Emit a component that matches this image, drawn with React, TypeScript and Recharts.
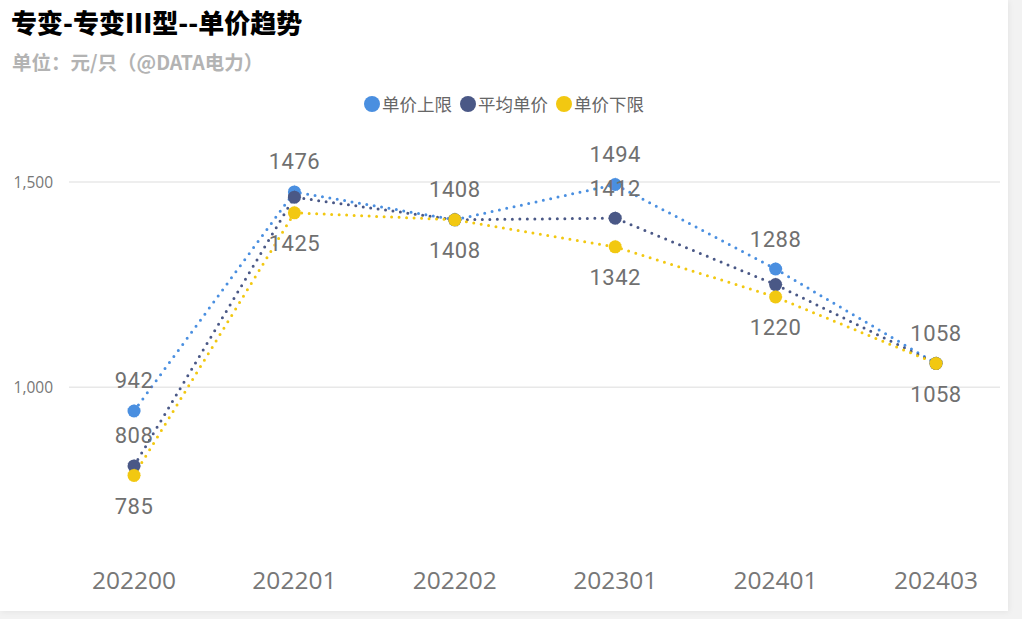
import React from 'react';
import { LineChart, Line, XAxis, YAxis, ReferenceLine, LabelList } from 'recharts';

const categories = ['202200', '202201', '202202', '202301', '202401', '202403'];
const upperValues = [942, 1476, 1408, 1494, 1288, 1058];
const avgValues = [808, 1463, 1408, 1412, 1250, 1058];
const lowerValues = [785, 1425, 1408, 1342, 1220, 1058];
const avgLabelShown = [true, false, false, true, false, false];
const yTicks = [1000, 1500];
const seriesNames = ['单价上限', '平均单价', '单价下限'];
const seriesColors = ['#4A8FE0', '#4A5886', '#F2C811'];

const data = categories.map((c, i) => ({
  cat: c,
  upper: upperValues[i],
  avg: avgValues[i],
  lower: lowerValues[i],
}));

const labelStyle = {
  fontFamily: 'Roboto, sans-serif',
  fontSize: 22,
  fill: '#707070',
  letterSpacing: 0.5,
};

const makeLabel = (offset: number, shown?: boolean[]) => (props: any) => {
  const { x, y, value, index } = props;
  if (shown && !shown[index]) return null;
  return (
    <text
      x={x}
      y={y + offset}
      textAnchor="middle"
      dominantBaseline="central"
      style={labelStyle as any}
    >
      {value}
    </text>
  );
};

const XTick = (props: any) => {
  const { x, y, payload } = props;
  return (
    <text
      x={x}
      y={y + 38}
      textAnchor="middle"
      dominantBaseline="central"
      style={{ fontFamily: '"Open Sans", sans-serif', fontSize: 24.5, fill: '#777777' }}
    >
      {payload.value}
    </text>
  );
};

const YTick = (props: any) => {
  const { x, y, payload } = props;
  return (
    <text
      x={x}
      y={y}
      textAnchor="end"
      dominantBaseline="central"
      style={{ fontFamily: '"Open Sans", sans-serif', fontSize: 15.5, fill: '#777777' }}
    >
      {payload.value.toLocaleString('en-US')}
    </text>
  );
};

export default function App() {
  const keys = ['upper', 'avg', 'lower'];
  return (
    <div
      style={{
        position: 'absolute',
        left: 0,
        top: 0,
        width: 1022,
        height: 619,
        background: '#f2f2f2',
        overflow: 'hidden',
      }}
    >
      <div
        style={{
          position: 'absolute',
          left: 0,
          top: 0,
          width: 1008,
          height: 611,
          background: '#ffffff',
          boxShadow: '1px 1px 6px rgba(0,0,0,0.06)',
        }}
      >
        <div
          style={{
            position: 'absolute',
            left: 11,
            top: 5,
            fontFamily: '"Noto Sans CJK SC", sans-serif',
            fontWeight: 900,
            fontSize: 26,
            lineHeight: '34px',
            color: '#000000',
            whiteSpace: 'nowrap',
          }}
        >
          专变-专变III型--单价趋势
        </div>
        <div
          style={{
            position: 'absolute',
            left: 12,
            top: 47,
            fontFamily: '"Noto Sans CJK SC", sans-serif',
            fontWeight: 700,
            fontSize: 19.5,
            lineHeight: '30px',
            color: '#b3b3b3',
            whiteSpace: 'nowrap',
          }}
        >
          单位：元/只（@DATA电力）
        </div>
        <div
          style={{
            position: 'absolute',
            left: 0,
            top: 92,
            width: 1008,
            display: 'flex',
            justifyContent: 'center',
            alignItems: 'center',
            height: 24,
          }}
        >
          {seriesNames.map((n, i) => (
            <div
              key={n}
              style={{ display: 'flex', alignItems: 'center', marginRight: i < 2 ? 8 : 0 }}
            >
              <span
                style={{
                  display: 'inline-block',
                  width: 16,
                  height: 16,
                  borderRadius: 8,
                  background: seriesColors[i],
                  marginRight: 2,
                }}
              />
              <span
                style={{
                  fontFamily: '"Noto Sans CJK SC", sans-serif',
                  fontSize: 17.5,
                  color: '#666666',
                  lineHeight: '24px',
                }}
              >
                {n}
              </span>
            </div>
          ))}
        </div>
        <div style={{ position: 'absolute', left: 0, top: 0 }}>
          <LineChart
            width={1008}
            height={611}
            data={data}
            margin={{ top: 141, right: 8, bottom: 0, left: 0 }}
          >
            <XAxis
              dataKey="cat"
              scale="point"
              padding={{ left: 65, right: 64 }}
              axisLine={false}
              tickLine={false}
              tickSize={0}
              height={72}
              tick={<XTick />}
              interval={0}
            />
            <YAxis
              domain={[630, 1600]}
              ticks={yTicks}
              width={69}
              axisLine={false}
              tickLine={false}
              tickSize={0}
              tickMargin={16}
              tick={<YTick />}
            />
            {yTicks.map((t) => (
              <ReferenceLine key={t} y={t} stroke="#e8e8e8" strokeWidth={1.5} />
            ))}
            {keys.map((k, i) => (
              <Line
                key={k}
                dataKey={k}
                name={seriesNames[i]}
                stroke={seriesColors[i]}
                strokeWidth={3}
                strokeDasharray="0 7.5"
                strokeLinecap="round"
                type="linear"
                isAnimationActive={false}
                dot={{ r: 6.5, fill: seriesColors[i], stroke: seriesColors[i], strokeWidth: 0.5 }}
                activeDot={false}
              >
                <LabelList
                  dataKey={k}
                  content={
                    k === 'upper'
                      ? makeLabel(-30)
                      : k === 'lower'
                      ? makeLabel(31)
                      : makeLabel(-30, avgLabelShown)
                  }
                />
              </Line>
            ))}
          </LineChart>
        </div>
      </div>
    </div>
  );
}
